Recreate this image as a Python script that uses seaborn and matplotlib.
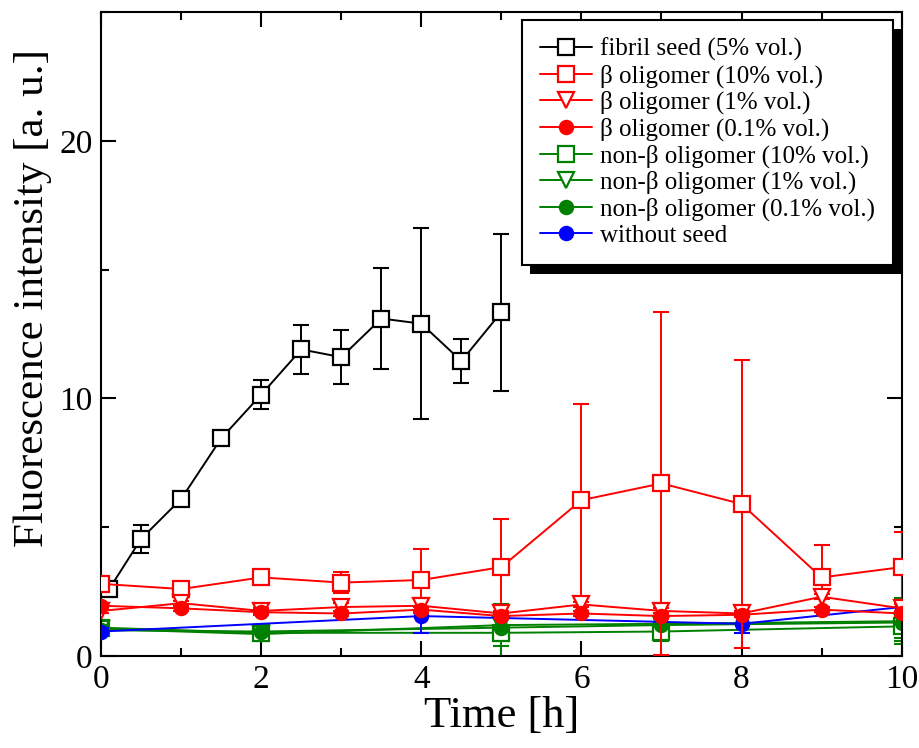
import matplotlib
matplotlib.use("Agg")
import matplotlib.pyplot as plt
import seaborn as sns
from matplotlib.patches import Rectangle
from matplotlib.ticker import MultipleLocator

# ---- data: mean fluorescence and error (a. u.) vs time (h) ----
fibril_t = [0.1, 0.5, 1, 1.5, 2, 2.5, 3, 3.5, 4, 4.5, 5]
fibril_y = [2.6, 4.55, 6.1, 8.45, 10.15, 11.9, 11.6, 13.1, 12.9, 11.45, 13.35]
fibril_e = [0.2, 0.55, 0.2, 0.15, 0.55, 0.95, 1.05, 1.95, 3.7, 0.85, 3.05]

hourly_t = [0, 1, 2, 3, 4, 5, 6, 7, 8, 9, 10]
beta10_y = [2.8, 2.6, 3.05, 2.85, 2.95, 3.45, 6.05, 6.7, 5.9, 3.05, 3.45]
beta10_e = [0.15, 0.15, 0.15, 0.4, 1.2, 1.85, 3.75, 6.65, 5.6, 1.25, 1.35]
beta1_y = [1.75, 2.05, 1.75, 1.9, 1.95, 1.65, 2.0, 1.75, 1.65, 2.3, 1.85]
beta1_e = [0.1, 0.1, 0.1, 0.15, 0.3, 0.1, 0.1, 0.1, 0.1, 0.1, 0.15]
beta01_y = [1.95, 1.85, 1.7, 1.65, 1.8, 1.55, 1.65, 1.55, 1.6, 1.8, 1.65]
beta01_e = [0.1, 0.1, 0.1, 0.1, 0.1, 0.1, 0.1, 0.1, 0.1, 0.1, 0.1]

nonbeta_t = [0, 2, 5, 7, 10]
nonbeta10_y = [1.1, 0.9, 0.9, 0.95, 1.15]
nonbeta10_e = [0.15, 0.3, 1.05, 0.35, 0.55]
nonbeta1_y = [1.05, 0.85, 1.2, 1.25, 1.35]
nonbeta1_e = [0.1, 0.1, 0.8, 0.3, 0.9]
nonbeta01_y = [1.0, 0.95, 1.1, 1.2, 1.3]
nonbeta01_e = [0.1, 0.1, 0.5, 0.3, 0.6]

noseed_t = [0, 4, 8, 10]
noseed_y = [0.95, 1.55, 1.25, 1.9]
noseed_e = [0.15, 0.65, 0.35, 0.2]

labels = [
    "fibril seed (5% vol.)",
    "β oligomer (10% vol.)",
    "β oligomer (1% vol.)",
    "β oligomer (0.1% vol.)",
    "non-β oligomer (10% vol.)",
    "non-β oligomer (1% vol.)",
    "non-β oligomer (0.1% vol.)",
    "without seed",
]

sns.set_style("ticks")
plt.rcParams["font.family"] = ["Liberation Serif", "DejaVu Serif"]
plt.rcParams["text.color"] = "black"
plt.rcParams["axes.labelcolor"] = "black"
plt.rcParams["xtick.color"] = "black"
plt.rcParams["ytick.color"] = "black"
plt.rcParams["axes.linewidth"] = 1.5

fig = plt.figure(figsize=(9.2, 7.48), dpi=100)
ax = fig.add_axes([0.110, 0.123, 0.870, 0.861])

series = [
    (fibril_t, fibril_y, fibril_e, "black", "s", True, 3),
    (hourly_t, beta10_y, beta10_e, "#ff0000", "s", True, 3),
    (hourly_t, beta1_y, beta1_e, "#ff0000", "v", True, 3),
    (hourly_t, beta01_y, beta01_e, "#ff0000", "o", False, 3),
    (nonbeta_t, nonbeta10_y, nonbeta10_e, "#008000", "s", True, 2),
    (nonbeta_t, nonbeta1_y, nonbeta1_e, "#008000", "v", True, 2),
    (nonbeta_t, nonbeta01_y, nonbeta01_e, "#008000", "o", False, 2),
    (noseed_t, noseed_y, noseed_e, "#0000ff", "o", False, 2.5),
]

for (t, y, e, c, m, hollow, z), lab in zip(series, labels):
    ax.errorbar(t, y, yerr=e, fmt="none", ecolor=c, elinewidth=1.4,
                capsize=6, capthick=1.5, zorder=z)
    sns.lineplot(x=t, y=y, ax=ax, color=c, linewidth=1.4, marker=m,
                 markersize=11 if m != "o" else 9.5,
                 markerfacecolor="white" if hollow else c,
                 markeredgecolor=c, markeredgewidth=1.6,
                 label=lab, zorder=z + 0.1)

ax.set_xlim(0, 10)
ax.set_ylim(0, 25)
ax.xaxis.set_major_locator(MultipleLocator(2))
ax.xaxis.set_minor_locator(MultipleLocator(1))
ax.yaxis.set_major_locator(MultipleLocator(10))
ax.yaxis.set_minor_locator(MultipleLocator(5))
ax.tick_params(which="both", direction="in", top=True, right=True,
               width=1.5, labelsize=24, colors="black")
ax.tick_params(which="major", length=11, pad=6)
ax.tick_params(which="minor", length=6)
for s in ax.spines.values():
    s.set_color("black")
    s.set_linewidth(1.5)

ax.set_xlabel("Time [h]", fontsize=32, labelpad=1)
ax.set_ylabel("Fluorescence intensity [a. u.]", fontsize=31)
ax.yaxis.set_label_coords(-0.062, 0.556)

leg = ax.legend(loc="upper right", bbox_to_anchor=(0.989, 0.988),
                fontsize=18, frameon=True, fancybox=False, framealpha=1,
                edgecolor="black", handlelength=2.1, handletextpad=0.3,
                labelspacing=0.13, borderpad=0.72, borderaxespad=0)
leg.get_frame().set_linewidth(1.5)
for txt in leg.get_texts():
    txt.set_color("black")
leg.set_zorder(10)

# solid drop shadow behind the legend box
fig.canvas.draw()
bb = leg.get_window_extent().transformed(ax.transAxes.inverted())
axw = ax.get_window_extent()
dx = 8 / axw.width
dy = 9 / axw.height
ax.add_patch(Rectangle((bb.x0 + dx, bb.y0 - dy), bb.width, bb.height,
                       transform=ax.transAxes, facecolor="black",
                       edgecolor="none", zorder=9.9, clip_on=False))

fig.savefig("out.png", dpi=100)
